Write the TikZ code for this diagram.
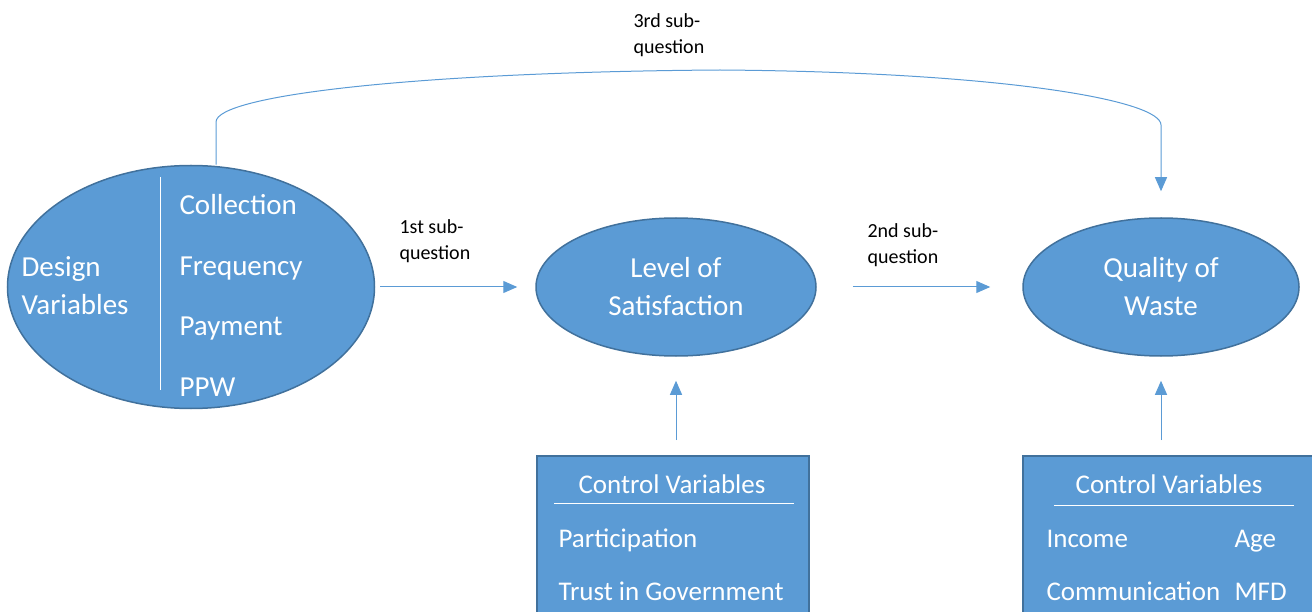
\documentclass[tikz,border=0pt]{standalone}
\usepackage{fontspec}
\setmainfont{Carlito}
\usetikzlibrary{shapes.geometric, arrows.meta}
\definecolor{cellblue}{HTML}{5B9BD5}
\definecolor{celledge}{HTML}{41719C}

\begin{document}
\begin{tikzpicture}[>={Triangle[length=14pt, width=12pt]}, x=1pt, y=-1pt,
  bubble/.style={ellipse, draw=celledge, line width=1.5pt, fill=cellblue, inner sep=0pt},
  ctrlbox/.style={rectangle, draw=celledge, line width=1.5pt, fill=cellblue, inner sep=0pt, anchor=north west},
  intext/.style={text=white, font=\fontsize{29}{38}\selectfont, align=center},
  boxtext/.style={text=white, font=\fontsize{27}{32}\selectfont, anchor=base west},
  qlabel/.style={font=\fontsize{20}{26}\selectfont, align=left, anchor=west},
  flow/.style={->, draw=cellblue, line width=1pt}]
  % Frame
  \useasboundingbox (0,0) rectangle (1312,612);
  \clip (0,0) rectangle (1312,612);

  % Ellipses
  \node[bubble, minimum width=367pt, minimum height=243pt] (dv) at (191,287) {};
  \node[bubble, minimum width=280pt, minimum height=138pt, intext] (sat) at (676,287) {Level of\\Satisfaction};
  \node[bubble, minimum width=276pt, minimum height=138pt, intext] (qual) at (1161,287) {Quality of\\Waste};

  % Design variables
  \draw[white, line width=1pt] (160,177) -- (160,390);
  \node[intext, anchor=west, align=left] (design) at (18,286) {Design\\Variables};
  \node[intext, anchor=base west] (coll) at (176,215) {Collection};
  \node[intext, anchor=base west] (freq) at (176,276) {Frequency};
  \node[intext, anchor=base west] (pay) at (176,336) {Payment};
  \node[intext, anchor=base west] (ppw) at (176,396) {PPW};

  % Control variable boxes
  \node[ctrlbox, minimum width=272pt, minimum height=190pt] (cv1) at (536,455) {};
  \node[ctrlbox, minimum width=310pt, minimum height=190pt] (cv2) at (1022,455) {};
  \node[boxtext, anchor=base] (cv1t) at (672,493) {Control Variables};
  \draw[white, line width=1pt] (554,503) -- (794,503);
  \node[boxtext] (part) at (555,547) {Participation};
  \node[boxtext] (trust) at (555,600) {Trust in Government};
  \node[boxtext, anchor=base] (cv2t) at (1169,493) {Control Variables};
  \draw[white, line width=1pt] (1054,505) -- (1294,505);
  \node[boxtext] (inc) at (1043,547) {Income};
  \node[boxtext] (age) at (1231,547) {Age};
  \node[boxtext] (comm) at (1043,600) {Communication};
  \node[boxtext] (mfd) at (1231,600) {MFD};

  % Sub-question labels
  \node[qlabel] (q1) at (396,241) {1st sub-\\question};
  \node[qlabel] (q2) at (864,245) {2nd sub-\\question};
  \node[qlabel] (q3) at (630,35) {3rd sub-\\question};

  % Arrows
  \draw[flow, shorten <=5pt, shorten >=18pt] (dv) -- (sat);
  \draw[flow, shorten <=36pt, shorten >=32pt] (sat) -- (qual);
  \draw[flow, shorten <=15pt, shorten >=24pt] (cv1.north -| sat.south) -- (sat.south);
  \draw[flow, shorten <=15pt, shorten >=24pt] (cv2.north -| qual.south) -- (qual.south);
  \coordinate (topl) at (216,122);
  \coordinate (topr) at (1161,125);
  \draw[flow, shorten >=26pt] (topl |- dv.north) -- (topl)
    .. controls (216,95) and (420,72) .. (720,70)
    .. controls (1000,72) and (1161,100) .. (topr) -- (qual.north);
\end{tikzpicture}
\end{document}
